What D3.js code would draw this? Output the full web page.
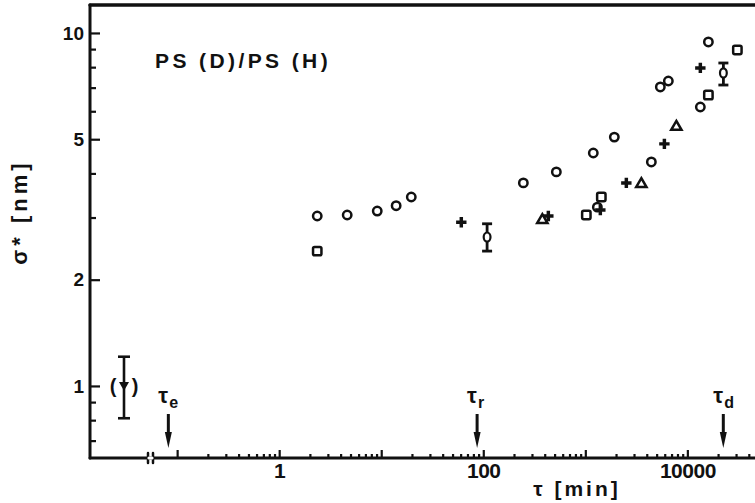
<!DOCTYPE html>
<html>
<head>
<meta charset="utf-8">
<script src="https://cdn.jsdelivr.net/npm/d3@7"></script>
<style>
  body { margin: 0; background: #fff; }
  svg { display: block; }
  text { font-family: "Liberation Sans", "DejaVu Sans", sans-serif; fill: #111; }
</style>
</head>
<body>
<svg id="chart" width="755" height="503"></svg>
<script>
// σ* [nm] against τ [min] for PS(D)/PS(H), log–log.

// Open circles
const circleX = [2.36, 4.64, 9.14, 14.0, 19.7, 247, 520, 1197, 1312, 1924, 4437, 5433, 6511, 13400, 16070];
const circleY = [3.03, 3.05, 3.13, 3.24, 3.43, 3.76, 4.04, 4.57, 3.21, 5.07, 4.31, 7.03, 7.31, 6.17, 9.43];

// Open squares
const squareX = [2.36, 1023, 1435, 16070, 30900];
const squareY = [2.41, 3.05, 3.43, 6.67, 8.95];

// Filled crosses
const crossX = [60.9, 434, 1403, 2523, 5954, 13400];
const crossY = [2.91, 3.03, 3.15, 3.76, 4.85, 7.96];

// Open triangles
const triX = [379, 3540, 7800];
const triY = [2.95, 3.73, 5.42];

// Points with error bars (value, lower, upper)
const errX = [109, 22540];
const errY = [2.64, 7.70];
const errLo = [2.41, 7.12];
const errHi = [2.88, 8.22];

// Bracketed point left of the axis break
const earlyY = 1.0, earlyLo = 0.81, earlyHi = 1.21;

// Characteristic times
const tauNames = ["e", "r", "d"];
const tauValues = [0.082, 87, 22500];

// Axis ticks
const xMajor = [0.1, 1, 10, 100, 1000, 10000];
const xLabelled = [1, 100, 10000];
const xMinorMult = [2, 3, 4, 5, 6, 7, 8, 9];
const yMajor = [1, 2, 5, 10];
const yMinor = [0.7, 0.8, 0.9, 3, 4, 6, 7, 8, 9];

const svg = d3.select("#chart");
const W = 755, H = 503;
const axisX = 90, topY = 5, baseY = 458;
const breakX = 148;

const x = d3.scaleLog().domain([0.058, 46000]).range([153, 755]);
const y = d3.scaleLog().domain([0.625, 12]).range([baseY, topY]);

const ink = "#111";

// ---- x axis ticks
const xMinor = [];
xMajor.forEach(m => xMinorMult.forEach(k => { const v = m * k; if (v < 46000) xMinor.push(v); }));
const xAll = xMajor.concat(xMinor).sort((a, b) => a - b);
const xAxis = d3.axisBottom(x)
  .tickValues(xAll)
  .tickSize(-4)
  .tickPadding(5)
  .tickFormat(d => xLabelled.some(v => Math.abs(v - d) < 1e-9) ? String(d) : "");
const gx = svg.append("g").attr("transform", `translate(0,${baseY})`).call(xAxis);
gx.select(".domain").remove();
gx.selectAll(".tick line")
  .attr("stroke", ink).attr("stroke-width", 2.2)
  .attr("y2", d => xMajor.some(v => Math.abs(v - d) < 1e-9) ? -8 : -4);
gx.selectAll(".tick text")
  .attr("font-size", 21).attr("font-weight", 700).attr("fill", ink).attr("letter-spacing", -0.5);

// ---- y axis ticks
const yAll = yMajor.concat(yMinor).sort((a, b) => a - b);
const yAxis = d3.axisLeft(y)
  .tickValues(yAll)
  .tickSize(-6)
  .tickPadding(6)
  .tickFormat(d => yMajor.includes(d) ? String(d) : "");
const gy = svg.append("g").attr("transform", `translate(${axisX},0)`).call(yAxis);
gy.select(".domain").remove();
gy.selectAll(".tick line")
  .attr("stroke", ink).attr("stroke-width", 2.2)
  .attr("x2", d => yMajor.includes(d) ? 10 : 6);
gy.selectAll(".tick text")
  .attr("font-size", 19).attr("font-weight", 700).attr("fill", ink);

// ---- frame lines
const frame = svg.append("g").attr("stroke", ink).attr("stroke-linecap", "round").attr("fill", "none");
frame.append("line").attr("x1", axisX).attr("y1", topY).attr("x2", axisX).attr("y2", baseY).attr("stroke-width", 3);
frame.append("line").attr("x1", axisX).attr("y1", baseY).attr("x2", W).attr("y2", baseY).attr("stroke-width", 3);
frame.append("line").attr("x1", axisX).attr("y1", topY).attr("x2", W).attr("y2", topY).attr("stroke-width", 3.5);
// axis break
[breakX, breakX + 5].forEach(bx => {
  frame.append("line").attr("x1", bx).attr("y1", baseY - 5).attr("x2", bx).attr("y2", baseY + 5).attr("stroke-width", 2.5);
});
frame.append("line").attr("x1", breakX + 1).attr("y1", baseY).attr("x2", breakX + 4).attr("y2", baseY)
  .attr("stroke", "#fff").attr("stroke-width", 3.2);

// ---- markers
const marks = svg.append("g").attr("stroke", ink).attr("stroke-width", 2.5);

marks.selectAll("circle.o").data(circleX.map((v, i) => [v, circleY[i]])).join("circle")
  .attr("class", "o").attr("cx", d => x(d[0])).attr("cy", d => y(d[1])).attr("r", 4.2)
  .attr("fill", "none");

marks.selectAll("rect.sq").data(squareX.map((v, i) => [v, squareY[i]])).join("rect")
  .attr("class", "sq").attr("x", d => x(d[0]) - 4.2).attr("y", d => y(d[1]) - 4.2)
  .attr("width", 8.4).attr("height", 8.4).attr("rx", 1.6).attr("fill", "none");

marks.selectAll("path.tri").data(triX.map((v, i) => [v, triY[i]])).join("path")
  .attr("class", "tri").attr("d", d3.symbol(d3.symbolTriangle, 46))
  .attr("transform", d => `translate(${x(d[0])},${y(d[1])})`).attr("fill", "none");

marks.selectAll("path.cr").data(crossX.map((v, i) => [v, crossY[i]])).join("path")
  .attr("class", "cr").attr("d", d3.symbol(d3.symbolCross, 60))
  .attr("transform", d => `translate(${x(d[0])},${y(d[1])})`)
  .attr("fill", ink).attr("stroke", "none");

// error-bar points
const eb = marks.selectAll("g.eb").data(errX.map((v, i) => ({ v, m: errY[i], lo: errLo[i], hi: errHi[i] }))).join("g")
  .attr("class", "eb").attr("transform", d => `translate(${x(d.v)},0)`);
eb.append("line").attr("y1", d => y(d.lo)).attr("y2", d => y(d.hi)).attr("stroke-width", 2.8);
eb.append("line").attr("x1", -5).attr("x2", 5).attr("y1", d => y(d.lo)).attr("y2", d => y(d.lo)).attr("stroke-width", 2.8);
eb.append("line").attr("x1", -5).attr("x2", 5).attr("y1", d => y(d.hi)).attr("y2", d => y(d.hi)).attr("stroke-width", 2.8);
eb.append("ellipse").attr("cx", 0).attr("cy", d => y(d.m)).attr("rx", 3.4).attr("ry", 4.6)
  .attr("fill", "#fff").attr("stroke-width", 2.2);

// bracketed early point
const ex = axisX + 34;
const eg = svg.append("g").attr("stroke", ink).attr("stroke-width", 2.6);
eg.append("line").attr("x1", ex).attr("x2", ex).attr("y1", y(earlyLo)).attr("y2", y(earlyHi));
eg.append("line").attr("x1", ex - 6).attr("x2", ex + 6).attr("y1", y(earlyLo)).attr("y2", y(earlyLo));
eg.append("line").attr("x1", ex - 6).attr("x2", ex + 6).attr("y1", y(earlyHi)).attr("y2", y(earlyHi));
eg.append("path").attr("d", d3.symbol(d3.symbolTriangle, 44))
  .attr("transform", `translate(${ex},${y(earlyY) - 1}) rotate(180)`).attr("fill", ink).attr("stroke", "none");
svg.append("text").attr("x", ex - 11).attr("y", y(earlyY) + 7).attr("font-size", 20).attr("font-weight", 700)
  .attr("text-anchor", "middle").text("(");
svg.append("text").attr("x", ex + 11).attr("y", y(earlyY) + 7).attr("font-size", 20).attr("font-weight", 700)
  .attr("text-anchor", "middle").text(")");

// ---- characteristic-time arrows
const tg = svg.selectAll("g.tau").data(tauValues.map((v, i) => ({ v, n: tauNames[i] }))).join("g")
  .attr("class", "tau").attr("transform", d => `translate(${x(d.v)},0)`);
tg.append("line").attr("x1", 0).attr("x2", 0).attr("y1", 414).attr("y2", 436)
  .attr("stroke", ink).attr("stroke-width", 3);
tg.append("path").attr("d", "M-3.5,432 L3.5,432 L0,448 Z").attr("fill", ink);
const tl = tg.append("text").attr("x", -10).attr("y", 403).attr("font-size", 22).attr("font-weight", 700);
tl.append("tspan").text("τ");
tl.append("tspan").attr("dy", 5).attr("dx", 1).attr("font-size", 16).text(d => d.n);

// ---- titles
svg.append("text").attr("x", 155).attr("y", 68).attr("font-size", 21).attr("font-weight", 700)
  .attr("letter-spacing", 3.4).text("PS (D)/PS (H)");
svg.append("text").attr("x", 577).attr("y", 496).attr("font-size", 21).attr("font-weight", 700)
  .attr("text-anchor", "middle").attr("letter-spacing", 3).text("τ [min]");
svg.append("text").attr("transform", "translate(27,212) rotate(-90)").attr("font-size", 22).attr("font-weight", 700)
  .attr("text-anchor", "middle").attr("letter-spacing", 4).text("σ* [nm]");
</script>
</body>
</html>
